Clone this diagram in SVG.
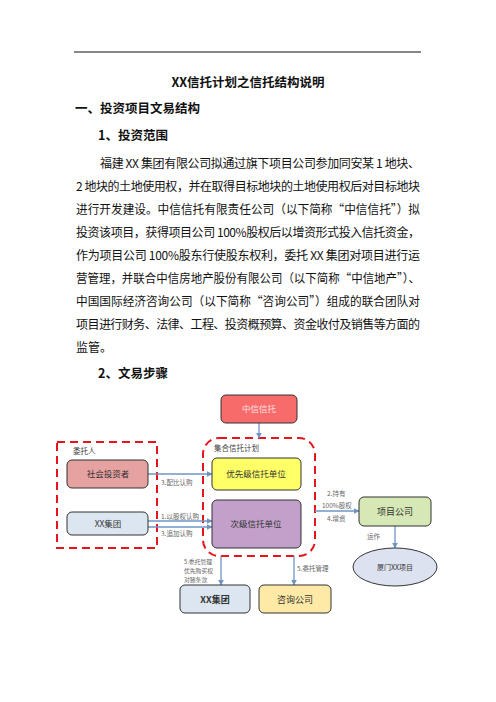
<svg xmlns="http://www.w3.org/2000/svg" width="496" height="702" viewBox="0 0 496 702">
<style>
text{font-family:"Noto Sans CJK SC","Liberation Serif",sans-serif;}
.body{font-size:12px;fill:#111;}
.h{font-size:12.5px;font-weight:bold;fill:#111;}
.box{stroke:#333;stroke-width:1;}
.bt{font-size:8.5px;fill:#333;text-anchor:middle;}
.lab{font-size:6.5px;fill:#666;}
.lab2{font-size:5.8px;fill:#666;}
.dash{fill:none;stroke:#E8141C;stroke-width:2;stroke-dasharray:8,5;}
.conn{stroke:#6F94C2;stroke-width:1.3;fill:none;marker-end:url(#ah);}
</style>
<defs>
<marker id="ah" viewBox="0 0 10 10" refX="9" refY="5" markerWidth="6" markerHeight="6" orient="auto" markerUnits="userSpaceOnUse">
<path d="M0,0 L10,5 L0,10 z" fill="#6F94C2"/>
</marker>
</defs>
<rect width="496" height="702" fill="#fff"/>
<line x1="74" y1="52" x2="421" y2="52" stroke="#111" stroke-width="1"/>
<text x="248" y="87" class="h" text-anchor="middle" font-size="13">XX信托计划之信托结构说明</text>
<text x="75" y="113" class="h">一、投资项目文易结构</text>
<text x="98" y="140" class="h">1、投资范围</text>
<g class="body">
<text x="100" y="168" class="body" textLength="320" lengthAdjust="spacing">福建 XX 集团有限公司拟通过旗下项目公司参加同安某 1 地块、</text>
<text x="76" y="191" class="body" textLength="344" lengthAdjust="spacing">2 地块的土地使用权，并在取得目标地块的土地使用权后对目标地块</text>
<text x="76" y="214" class="body" textLength="344" lengthAdjust="spacingAndGlyphs">进行开发建设。中信信托有限责任公司（以下简称“中信信托”）拟</text>
<text x="76" y="237" class="body" textLength="344" lengthAdjust="spacing">投资该项目，获得项目公司 100%股权后以增资形式投入信托资金，</text>
<text x="76" y="260" class="body" textLength="344" lengthAdjust="spacing">作为项目公司 100%股东行使股东权利，委托 XX 集团对项目进行运</text>
<text x="76" y="283" class="body" textLength="344" lengthAdjust="spacingAndGlyphs">营管理，并联合中信房地产股份有限公司（以下简称“中信地产”）、</text>
<text x="76" y="306" class="body" textLength="344" lengthAdjust="spacingAndGlyphs">中国国际经济咨询公司（以下简称“咨询公司”）组成的联合团队对</text>
<text x="76" y="329" class="body" textLength="344" lengthAdjust="spacing">项目进行财务、法律、工程、投资概预算、资金收付及销售等方面的</text>
<text x="76" y="352" class="body">监管。</text>
</g>
<text x="98" y="378" class="h">2、文易步骤</text>

<g id="group-trustor">
<rect x="57" y="442" width="100" height="106" class="dash"/>
<text x="73" y="454" font-size="7.5" fill="#444">委托人</text>
</g>
<g id="group-plan">
<rect x="203" y="438" width="112" height="118" rx="16" class="dash"/>
<text x="214" y="451" font-size="7.5" fill="#444">集合信托计划</text>
</g>

<g id="connectors">
<line x1="259" y1="423" x2="259" y2="438" class="conn"/>
<line x1="148" y1="474" x2="212" y2="474" class="conn"/>
<line x1="148" y1="521" x2="212" y2="521" class="conn"/>
<line x1="148" y1="527" x2="212" y2="527" class="conn"/>
<line x1="315" y1="511" x2="359" y2="511" class="conn"/>
<line x1="395" y1="526" x2="395" y2="548" class="conn"/>
<line x1="221" y1="556" x2="221" y2="585" class="conn"/>
<line x1="294" y1="556" x2="294" y2="585" class="conn"/>
<text x="161" y="485" class="lab">3.配比认购</text>
<text x="161" y="519" class="lab">1.以股权认购</text>
<text x="161" y="536" class="lab">3.追加认购</text>
<text x="327" y="496" class="lab">2.持有</text>
<text x="322" y="508" class="lab">100%股权</text>
<text x="327" y="521" class="lab">4.增资</text>
<text x="367" y="539" class="lab">运作</text>
<text x="184" y="564" class="lab2">5.委托管理</text>
<text x="184" y="573" class="lab2">优先购买权</text>
<text x="184" y="582" class="lab2">对赌条款</text>
<text x="297" y="571" class="lab">5.委托管理</text>
</g>

<g id="node-citic">
<rect x="221" y="395" width="76" height="28" rx="5" fill="#F86B6B" class="box"/>
<text x="259" y="412" class="bt" style="fill:#FFE0E0">中信信托</text>
</g>
<g id="node-investor">
<rect x="67" y="460" width="81" height="28" rx="5" fill="#E6A1A1" class="box"/>
<text x="108" y="477" class="bt">社会投资者</text>
</g>
<g id="node-xx-left">
<rect x="67" y="512" width="81" height="23" rx="5" fill="#DCE6F1" class="box"/>
<text x="108" y="527" class="bt">XX集团</text>
</g>
<g id="node-senior">
<rect x="212" y="458" width="89" height="32" rx="5" fill="#FFFF66" class="box"/>
<text x="256" y="477" class="bt">优先级信托单位</text>
</g>
<g id="node-junior">
<rect x="212" y="500" width="89" height="48" rx="5" fill="#C2A0CA" class="box"/>
<text x="256" y="527" class="bt">次级信托单位</text>
</g>
<g id="node-projco">
<rect x="359" y="497" width="72" height="29" rx="5" fill="#D5E8B5" class="box"/>
<text x="395" y="515" class="bt" style="font-size:9px">项目公司</text>
</g>
<g id="node-xiamen">
<ellipse cx="395" cy="567" rx="42" ry="19" fill="#DDE2F0" class="box"/>
<text x="395" y="570" class="bt" style="font-size:7px">厦门XX项目</text>
</g>
<g id="node-xx-bottom">
<rect x="180" y="585" width="70" height="28" rx="5" fill="#DCE6F1" class="box"/>
<text x="215" y="603" class="bt" style="font-size:9px;font-weight:bold">XX集团</text>
</g>
<g id="node-consult">
<rect x="259" y="585" width="72" height="28" rx="5" fill="#FFE9A6" class="box"/>
<text x="295" y="603" class="bt" style="font-size:9px">咨询公司</text>
</g>
</svg>
